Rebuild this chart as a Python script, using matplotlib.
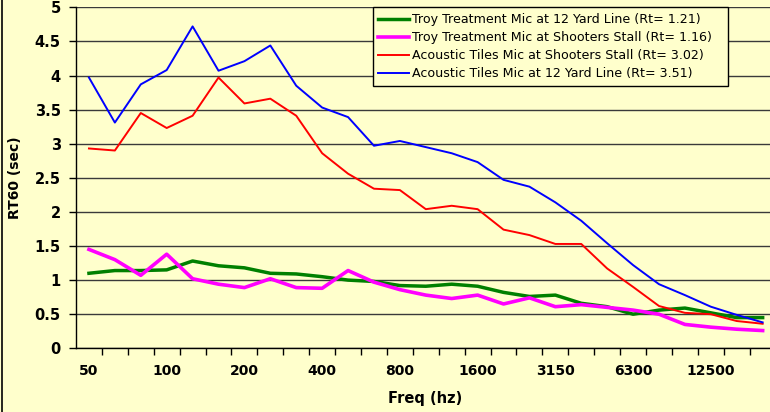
import matplotlib.pyplot as plt
from matplotlib.lines import Line2D
import numpy as np

plt.rcParams['font.family'] = ['DejaVu Sans']

# 1/3 octave bands
freqs = ['50', '63', '80', '100', '125', '160', '200', '250', '315', '400',
         '500', '630', '800', '1000', '1250', '1600', '2000', '2500', '3150',
         '4000', '5000', '6300', '8000', '10000', '12500', '16000', '20000']

troy_12yd = [1.10, 1.14, 1.14, 1.15, 1.28, 1.21, 1.18, 1.10, 1.09, 1.05,
             1.00, 0.98, 0.92, 0.91, 0.94, 0.91, 0.82, 0.76, 0.78, 0.66,
             0.61, 0.50, 0.56, 0.59, 0.52, 0.45, 0.45]
troy_stall = [1.45, 1.30, 1.07, 1.38, 1.02, 0.94, 0.89, 1.02, 0.89, 0.88,
              1.14, 0.97, 0.86, 0.78, 0.73, 0.78, 0.65, 0.74, 0.61, 0.64,
              0.60, 0.56, 0.50, 0.35, 0.31, 0.28, 0.26]
tiles_stall = [2.93, 2.90, 3.45, 3.23, 3.41, 3.97, 3.59, 3.66, 3.41, 2.86,
               2.56, 2.34, 2.32, 2.04, 2.09, 2.04, 1.74, 1.66, 1.53, 1.53,
               1.17, 0.90, 0.62, 0.52, 0.50, 0.40, 0.36]
tiles_12yd = [3.97, 3.31, 3.87, 4.08, 4.72, 4.07, 4.21, 4.44, 3.85, 3.53,
              3.39, 2.97, 3.04, 2.95, 2.86, 2.73, 2.47, 2.37, 2.14, 1.87,
              1.54, 1.22, 0.94, 0.78, 0.61, 0.49, 0.38]

labels = ['Troy Treatment Mic at 12 Yard Line (Rt= 1.21)',
          'Troy Treatment Mic at Shooters Stall (Rt= 1.16)',
          'Acoustic Tiles Mic at Shooters Stall (Rt= 3.02)',
          'Acoustic Tiles Mic at 12 Yard Line (Rt= 3.51)']

bg = '#FFFFCC'
W, H = 770, 412
fig = plt.figure(figsize=(W / 100, H / 100), dpi=100, facecolor=bg)
ax = fig.add_axes([76 / W, 1 - 348.3 / H, 699.6 / W, 341 / H], facecolor=bg)

x = np.arange(len(freqs))
ax.plot(x, troy_12yd, color='#008000', lw=2.5, label=labels[0], zorder=3)
ax.plot(x, troy_stall, color='#FF00FF', lw=2.6, label=labels[1], zorder=3)
ax.plot(x, tiles_stall, color='#FF0000', lw=1.4, label=labels[2], zorder=3)
ax.plot(x, tiles_12yd, color='#0000FF', lw=1.4, label=labels[3], zorder=3)

ax.set_xlim(-0.5, len(freqs) - 0.5)
ax.set_ylim(0, 5)
ax.set_yticks(np.arange(0, 5.01, 0.5))
ax.set_yticklabels(['0', '0.5', '1', '1.5', '2', '2.5', '3', '3.5', '4', '4.5', '5'])
ax.yaxis.grid(True, color='#3a3a3a', lw=1)
ax.set_axisbelow(True)

# ticks at category boundaries, labels at every third category centre
ax.set_xticks(np.arange(0.5, len(freqs), 1.0))
ax.set_xticklabels([])
ax.set_xticks(x[::3], minor=True)
ax.set_xticklabels(freqs[::3], minor=True)
ax.tick_params(axis='x', which='major', length=5, width=1, direction='out')
ax.tick_params(axis='x', which='minor', length=0, pad=11, labelsize=10)
ax.tick_params(axis='y', length=5, width=1, pad=6, labelsize=10.5)
for t in ax.get_xticklabels(minor=True) + ax.get_yticklabels():
    t.set_fontweight('bold')

for s in ['top', 'right']:
    ax.spines[s].set_visible(False)
for s in ['left', 'bottom']:
    ax.spines[s].set_color('black')
    ax.spines[s].set_linewidth(1)

fig.text(15 / W, 1 - 178 / H, 'RT60 (sec)', rotation=90, ha='center',
         va='center', fontsize=10, fontweight='bold')
fig.text(425 / W, 1 - 398 / H, 'Freq (hz)', ha='center', va='center',
         fontsize=10.5, fontweight='bold')

leg = ax.legend(loc='upper left',
                bbox_to_anchor=(372.7 / W, 1 - 87.3 / H, 355 / W, 80 / H),
                bbox_transform=fig.transFigure, mode='expand', fontsize=9.1,
                frameon=True, fancybox=False, borderaxespad=0, borderpad=0.45,
                handlelength=2.4, handletextpad=0.25, labelspacing=0.4)
leg.get_frame().set_edgecolor('black')
leg.get_frame().set_facecolor(bg)
leg.get_frame().set_linewidth(1)
leg.get_frame().set_alpha(None)

fig.add_artist(Line2D([1.5 / W, 1.5 / W], [0, 1], color='black', lw=1.2,
                      transform=fig.transFigure))

fig.savefig('out.png', dpi=100, facecolor=bg)
